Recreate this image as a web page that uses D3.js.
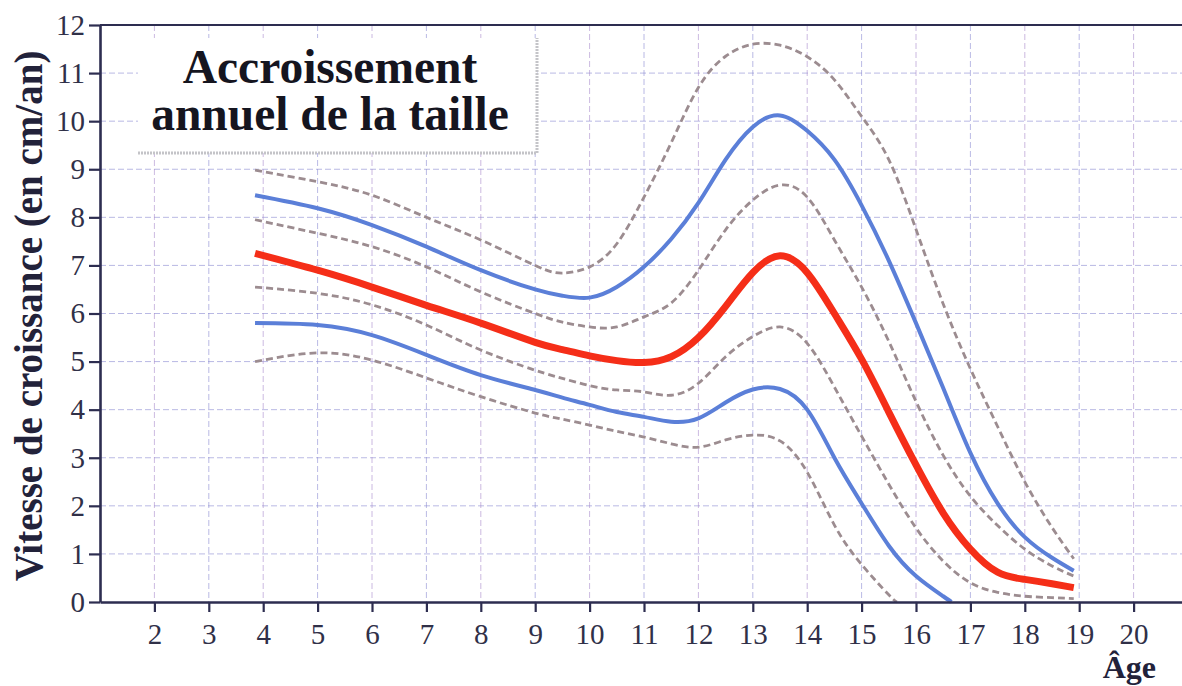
<!DOCTYPE html>
<html>
<head>
<meta charset="utf-8">
<script src="https://cdn.jsdelivr.net/npm/d3@7"></script>
<style>
  body { margin: 0; background: #fff; }
  text { font-family: "Liberation Serif", "DejaVu Serif", serif; }
</style>
</head>
<body>
<div id="chart"></div>
<script>
// ages (years) shared by the long curves
const ages = [3.85, 5, 6, 7, 8, 9, 9.5, 10, 10.5, 11, 11.5, 12, 12.5, 13, 13.5, 14, 14.5, 15, 15.5, 16, 16.5, 17, 17.5, 18, 18.5, 18.9];

// growth speed in cm/year
const p97 = [8.98, 8.74, 8.46, 8.0, 7.53, 7.0, 6.84, 6.97, 7.45, 8.42, 9.55, 10.7, 11.35, 11.6, 11.58, 11.34, 10.86, 10.1, 9.2, 7.75, 6.2, 4.85, 3.65, 2.5, 1.55, 0.9];
const p90 = [8.46, 8.19, 7.84, 7.39, 6.9, 6.5, 6.37, 6.33, 6.55, 6.97, 7.55, 8.3, 9.2, 9.88, 10.12, 9.8, 9.2, 8.25, 7.1, 5.8, 4.45, 3.1, 2.05, 1.35, 0.92, 0.65];
const p75 = [7.95, 7.67, 7.39, 6.97, 6.45, 6.0, 5.82, 5.72, 5.72, 5.93, 6.22, 6.9, 7.74, 8.36, 8.67, 8.42, 7.53, 6.55, 5.42, 4.17, 3.05, 2.2, 1.59, 1.1, 0.75, 0.54];
const p50 = [7.25, 6.9, 6.55, 6.17, 5.8, 5.4, 5.25, 5.12, 5.02, 4.98, 5.1, 5.5, 6.15, 6.85, 7.2, 6.85, 6.0, 5.05, 3.95, 2.85, 1.85, 1.1, 0.62, 0.47, 0.38, 0.3];
const p25 = [6.55, 6.42, 6.18, 5.76, 5.24, 4.82, 4.65, 4.5, 4.41, 4.37, 4.3, 4.55, 5.1, 5.52, 5.72, 5.38, 4.47, 3.45, 2.45, 1.54, 0.85, 0.4, 0.2, 0.12, 0.09, 0.07];

// the two low curves stop when they reach 0
const agesP10 = [3.85, 5, 6, 7, 8, 9, 9.5, 10, 10.5, 11, 11.5, 12, 12.5, 13, 13.5, 14, 14.5, 15, 15.5, 16, 16.5, 16.65];
const p10 = [5.8, 5.76, 5.55, 5.14, 4.72, 4.41, 4.25, 4.1, 3.95, 3.85, 3.75, 3.82, 4.15, 4.42, 4.43, 4.0, 3.0, 2.05, 1.17, 0.54, 0.12, 0];
const agesP3 = [3.85, 5, 6, 7, 8, 9, 9.5, 10, 10.5, 11, 11.5, 12, 12.5, 13, 13.5, 14, 14.5, 15, 15.5, 15.65];
const p3 = [5.0, 5.18, 5.03, 4.66, 4.27, 3.93, 3.8, 3.68, 3.55, 3.43, 3.29, 3.22, 3.37, 3.47, 3.35, 2.7, 1.6, 0.78, 0.15, 0];

const xTicks = [2, 3, 4, 5, 6, 7, 8, 9, 10, 11, 12, 13, 14, 15, 16, 17, 18, 19, 20];
const yTicks = [0, 1, 2, 3, 4, 5, 6, 7, 8, 9, 10, 11, 12];

const width = 1182;
const height = 686;
const axisColor = "#2d2d50";

const svg = d3.select("#chart")
  .append("svg")
  .attr("width", width)
  .attr("height", height);

const x = d3.scaleLinear().domain([1, 21]).range([100, 1188]);
const y = d3.scaleLinear().domain([0, 12]).range([602, 25]);

// grid
const grid = svg.append("g").attr("class", "grid");
grid.selectAll("line.h")
  .data(yTicks.slice(1, -1))
  .join("line")
  .attr("class", "h")
  .attr("x1", x(1)).attr("x2", width)
  .attr("y1", d => y(d)).attr("y2", d => y(d))
  .attr("stroke", "#8a8ad2")
  .attr("stroke-opacity", 0.6)
  .attr("stroke-dasharray", "6,3");
grid.selectAll("line.v")
  .data(xTicks)
  .join("line")
  .attr("class", "v")
  .attr("x1", d => x(d)).attr("x2", d => x(d))
  .attr("y1", y(12)).attr("y2", y(0))
  .attr("stroke", (d, i) => i % 2 ? "#8a8ad2" : "#a88acc")
  .attr("stroke-opacity", 0.6)
  .attr("stroke-dasharray", "6,3");
// top border at 12
grid.append("line")
  .attr("x1", x(1)).attr("x2", width)
  .attr("y1", y(12)).attr("y2", y(12))
  .attr("stroke", axisColor)
  .attr("stroke-width", 2.2);

// title box
const box = svg.append("g").attr("class", "title-box");
box.append("rect")
  .attr("x", 138).attr("y", 38)
  .attr("width", 399).attr("height", 115)
  .attr("fill", "#fff");
box.append("path")
  .attr("d", "M138,153 H537 V38")
  .attr("fill", "none")
  .attr("stroke", "#c4c4c8")
  .attr("stroke-width", 3)
  .attr("stroke-dasharray", "2,1");
box.selectAll("text")
  .data(["Accroissement", "annuel de la taille"])
  .join("text")
  .attr("x", 330)
  .attr("y", (d, i) => 83 + i * 47)
  .attr("text-anchor", "middle")
  .attr("font-size", 47.5)
  .attr("font-weight", "bold")
  .attr("fill", "#15151f")
  .text(d => d);

// curves
const curves = [
  { ages: ages, values: p97, color: "#9c8c90", width: 2.8, dash: "7,4" },
  { ages: ages, values: p75, color: "#9c8c90", width: 2.8, dash: "7,4" },
  { ages: ages, values: p25, color: "#9c8c90", width: 2.8, dash: "7,4" },
  { ages: agesP3, values: p3, color: "#9c8c90", width: 2.8, dash: "7,4" },
  { ages: ages, values: p90, color: "#5b7fd8", width: 4, dash: null },
  { ages: agesP10, values: p10, color: "#5b7fd8", width: 4, dash: null },
  { ages: ages, values: p50, color: "#f52e18", width: 7, dash: null }
];

const line = d3.line()
  .x(d => x(d[0]))
  .y(d => y(d[1]))
  .curve(d3.curveNatural);

svg.append("g")
  .attr("class", "curves")
  .selectAll("path")
  .data(curves)
  .join("path")
  .attr("d", c => line(c.ages.map((a, i) => [a, c.values[i]])))
  .attr("fill", "none")
  .attr("stroke", c => c.color)
  .attr("stroke-width", c => c.width)
  .attr("stroke-dasharray", c => c.dash);

// axes
const xAxis = svg.append("g")
  .attr("transform", `translate(0,${y(0)})`)
  .call(d3.axisBottom(x).tickValues(xTicks).tickSize(10).tickSizeOuter(0).tickPadding(6));
const yAxis = svg.append("g")
  .attr("transform", `translate(${x(1)},0)`)
  .call(d3.axisLeft(y).tickValues(yTicks).tickSize(11).tickSizeOuter(0).tickPadding(4));

[xAxis, yAxis].forEach(g => {
  g.select(".domain").attr("stroke", axisColor).attr("stroke-width", 2.6);
  g.selectAll(".tick line").attr("stroke", axisColor).attr("stroke-width", 2.2);
  g.selectAll(".tick text")
    .attr("fill", "#303048")
    .attr("font-size", 29)
    .attr("font-family", "Liberation Serif, serif");
});
xAxis.selectAll(".tick text").attr("dy", "0.9em");

// axis titles
svg.append("text")
  .attr("transform", "translate(42,316) rotate(-90)")
  .attr("text-anchor", "middle")
  .attr("font-size", 39)
  .attr("font-weight", "bold")
  .attr("fill", "#22223a")
  .text("Vitesse de croissance (en cm/an)");

svg.append("text")
  .attr("x", 1156)
  .attr("y", 678)
  .attr("text-anchor", "end")
  .attr("font-size", 32)
  .attr("font-weight", "bold")
  .attr("fill", "#22223a")
  .text("Âge");
</script>
</body>
</html>
